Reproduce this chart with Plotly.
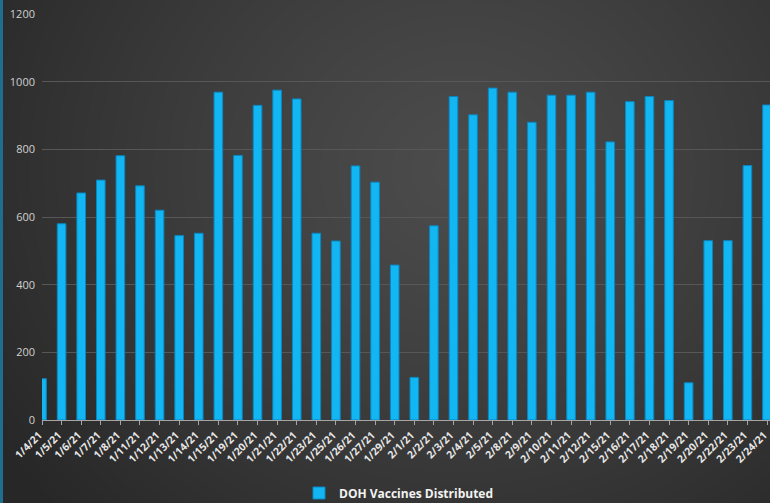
import base64, struct, zlib
import numpy as np
import plotly.graph_objects as go

dates = ["1/4/21", "1/5/21", "1/6/21", "1/7/21", "1/8/21", "1/11/21", "1/12/21", "1/13/21",
         "1/14/21", "1/15/21", "1/19/21", "1/20/21", "1/21/21", "1/22/21", "1/23/21", "1/25/21",
         "1/26/21", "1/27/21", "1/29/21", "2/1/21", "2/2/21", "2/3/21", "2/4/21", "2/5/21",
         "2/8/21", "2/9/21", "2/10/21", "2/11/21", "2/12/21", "2/15/21", "2/16/21", "2/17/21",
         "2/18/21", "2/19/21", "2/20/21", "2/22/21", "2/23/21", "2/24/21"]
vaccines = [122, 580, 671, 709, 781, 692, 620, 545,
            552, 969, 782, 930, 975, 949, 552, 529,
            751, 703, 458, 126, 574, 956, 902, 981,
            969, 880, 960, 960, 969, 822, 941, 956,
            944, 110, 530, 530, 752, 931]
series_name = "DOH Vaccines Distributed"
y_ticks = [0, 200, 400, 600, 800, 1000, 1200]

W, H = 770, 503
L, T, B = 42, 14, 420

# background radial gradient image (decorative)
yy, xx = np.mgrid[0:H, 0:W].astype(float)
d = np.sqrt(((xx - 460) / 1.0) ** 2 + ((yy - 170) / 0.9) ** 2)
v = 0x4c - (0x4c - 0x27) * np.clip(d / 560.0, 0, 1) ** 1.2
img = np.stack([v, v, v], axis=-1)
img[:, 0:3] = [29, 110, 145]
img = np.clip(img, 0, 255).astype(np.uint8)
raw = b"".join(b"\x00" + img[r].tobytes() for r in range(H))
def chunk(t, data):
    c = struct.pack(">I", len(data)) + t + data
    return c + struct.pack(">I", zlib.crc32(t + data) & 0xffffffff)
png = b"\x89PNG\r\n\x1a\n" + chunk(b"IHDR", struct.pack(">IIBBBBB", W, H, 8, 2, 0, 0, 0)) \
      + chunk(b"IDAT", zlib.compress(raw, 9)) + chunk(b"IEND", b"")
uri = "data:image/png;base64," + base64.b64encode(png).decode()

plot_w = W - L
plot_h = B - T
n = len(dates)
last_px = 767
xmax = (n - 1) * plot_w / (last_px - L)

fig = go.Figure()
fig.add_trace(go.Bar(
    x=list(range(n)), y=vaccines, name=series_name,
    marker=dict(color="#12b6f2", line=dict(color="#0a86c0", width=1)),
    showlegend=True,
))

fig.update_layout(
    width=W, height=H,
    margin=dict(l=L, r=0, t=T, b=H - B, autoexpand=False),
    paper_bgcolor="#333333", plot_bgcolor="rgba(0,0,0,0)",
    bargap=0.56,
    font=dict(family="Open Sans, Liberation Sans, sans-serif", color="#d9d9d9"),
    showlegend=True,
    legend=dict(orientation="h", x=(399 - L) / plot_w, xanchor="center",
                y=-(493 - B) / plot_h, yanchor="middle",
                font=dict(size=12, color="#f2f2f2", family="Open Sans, sans-serif", weight="bold"),
                bgcolor="rgba(0,0,0,0)", itemwidth=30),
    images=[dict(source=uri, xref="paper", yref="paper", x=-L / plot_w, y=B / plot_h,
                 sizex=W / plot_w, sizey=H / plot_h, xanchor="left", yanchor="top",
                 sizing="stretch", layer="below")],
    xaxis=dict(
        range=[0, xmax], tickmode="array", tickvals=list(range(n)), ticktext=dates,
        tickangle=-45, ticks="outside", ticklen=4, tickcolor="#a6a6a6",
        ticklabeloverflow="allow", ticklabelshift=-3,
        showline=True, linecolor="#a6a6a6", linewidth=1, showgrid=False, zeroline=False,
        tickfont=dict(size=10.5, color="#e6e6e6", weight="bold"),
    ),
    yaxis=dict(
        range=[0, 1200], tickvals=y_ticks, showgrid=True, gridcolor="#575757", gridwidth=1,
        zeroline=False, showline=False, ticks="", ticklabelstandoff=6,
        tickfont=dict(size=11, color="#d0d0d0"),
    ),
)

fig.write_html("out.html", config={"displayModeBar": False},
               post_script="document.body.style.margin='0';document.body.style.overflow='hidden';")
